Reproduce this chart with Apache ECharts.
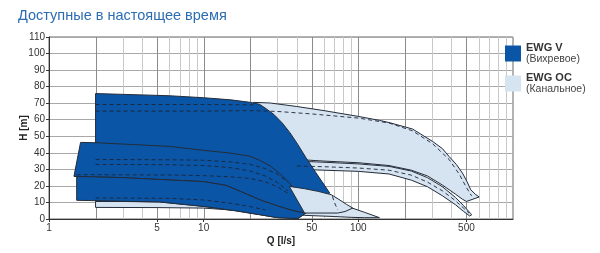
<!DOCTYPE html>
<html>
<head>
<meta charset="utf-8">
<script src="https://cdn.jsdelivr.net/npm/echarts@6/dist/echarts.min.js"></script>
<style>
html,body{margin:0;padding:0;background:#fff;}
#c{width:600px;height:253px;}
</style>
</head>
<body>
<div id="c"></div>
<script>
// ---- data ----
const xTickValues = [1, 5, 10, 50, 100, 500];
const gridMajor = [2, 5, 10, 20, 50, 100, 200, 500];
const gridMinor = [3, 4, 6, 7, 8, 9, 30, 40, 60, 70, 80, 90, 300, 400, 600, 700, 800, 900];

// EWG OC (Канальное) envelopes [Q, H]
const ocMain = [[21,70.5],[27,70.1],[40,68],[60,65.5],[100,62],[137,59.6],[158,58.3],[224,54.4],[302,46.9],[350,42.5],[386,37.8],[430,33],[471,27.8],[505,22.5],[533,17.7],[570,15],[604,13.3],
  [500,10.6],[470,12],[425,15],[350,20.5],[280,26],[220,29.5],[158,32.3],[100,34],[60,35],[40,36],[30,37],[21,40]];
const ocBand = [[30,35.5],[40,35],[60,34.3],[100,33.3],[158,31.8],[220,29],[280,25],[350,19.5],[425,13],[480,8],[530,3.5],[540,2.5],
  [525,1.8],[480,4.5],[425,8.6],[350,14],[280,19.5],[220,23.5],[158,27.2],[100,28.8],[60,29.5],[40,30],[30,30.2]];
const ocLow = [[2,10.6],[10,10.5],[20,10.5],[45,9.7],[60,9.5],[75,8.8],[90,6.8],[110,4],[137,0.8],
  [110,0.8],[90,1],[70,1.5],[45,2.2],[30,3.2],[20,4.6],[10,6.6],[5,6.9],[2,7]];
const ocSmall = [[35.8,19.7],[45,18.3],[55,16.7],[66.8,14.7],[75,11.8],[84,8.8],[92,6.6],[82,4.5],[73.5,3.6],[60,3.6],[44.9,3.6]];

// EWG V (Вихревое) envelopes [Q, H]
const vHigh = [[2,75.8],[4,75],[6,74.5],[10,73.3],[15,72],[20,70.5],[23,69.3],
  [25.3,66.7],[28.5,63.1],[32.1,58.2],[36.1,52.2],[40.7,44.9],[45.8,37.1],[51.6,29.8],[58.2,22.6],[65.3,15.7],
  [56,10],[45.7,3.6],[40.7,0.3],[30,0.8],[23,2.6],[16,5],[10,7.6],[5.2,10.3],[2,10.8]];
const vMid = [[1.6,46.3],[2,46.1],[3,45.3],[6,43.9],[10,41.5],[15,39.8],[19.8,38],[23,35.5],[27,32],[31,27.5],[35.8,21.8],[40,16],[44,10],[48.3,4.6],
  [45.7,3.6],[38,5],[30.8,7.6],[24,11],[19,15],[14,20.3],[10,22.6],[7,23.3],[3,25],[1.45,25.8]];
const vLow = [[1.45,25.8],[3,25],[7,23.3],[10,22.6],[14,20.3],[19,15],[24,11],[30.8,7.6],[38,5],[45.7,3.6],
  [40.7,0.3],[30,0.8],[23,2.6],[16,5],[10,7.6],[5.2,10.3],[1.51,11.3],[1.51,25.6]];

// dashed curves [Q, H]
const dashTopA = [[2,69.2],[10,69.2],[20,69],[22,68.9]];
const dashTopB = [[2,65.2],[10,65.2],[20,65.5],[30,65],[50,63.5],[100,61],[158,58],[224,53.3],[302,45.5],[386,36],[450,27],[500,19],[540,14]];
const dashMidA = [[2,36],[6,35.8],[10,35.5],[15,34.5],[20,33],[25,30.5],[30,27],[35,22.5]];
const dashMidB = [[2,33],[6,32.8],[10,32.3],[15,31],[20,29],[25,26],[30,22],[35,17]];
const dashLowA = [[1.51,26.8],[6,26.6],[10,26.2],[15,25.5],[20,24.5],[25,22.5],[30,19.5],[35,15.5]];
const dashLowB = [[2,12.7],[6,12.5],[10,11.5],[15,9.5],[20,7.5],[25,5.5]];
const dashBand = [[40,32],[60,31.6],[100,30.8],[158,29.5],[220,26.5],[280,22.3],[350,17],[425,11],[480,6.5],[520,3.5]];
const dashSmall = [[68,13.7],[70,10],[73.5,5.6]];

// ---- styles ----
const DARK = '#0b55a6';
const LIGHT = '#d6e3f0';
const OUTLINE = '#232c3a';
const FONT = 'Liberation Sans, Arial, sans-serif';

function polySeries(name, pts, fill) {
  return {
    type: 'custom', name: name, coordinateSystem: 'cartesian2d',
    data: pts, encode: {x: 0, y: 1}, clip: true, silent: true, z: 3,
    itemStyle: {color: fill},
    renderItem: function (params, api) {
      if (params.dataIndex !== 0) return null;
      return {
        type: 'polygon',
        shape: {points: pts.map(function (p) { return api.coord(p); })},
        style: {fill: fill, stroke: OUTLINE, lineWidth: 1}
      };
    }
  };
}
function dashSeries(pts) {
  return {
    type: 'line', data: pts, symbol: 'none', silent: true, z: 4,
    lineStyle: {color: '#1b2538', width: 0.9, type: [4, 3]}
  };
}

const gridLines = gridMajor.map(v => [v, 1]).concat(gridMinor.map(v => [v, 0]));

const chart = echarts.init(document.getElementById('c'), null, {renderer: 'canvas'});
chart.setOption({
  animation: false,
  backgroundColor: '#fff',
  title: {
    text: 'Доступные в настоящее время', left: 13, top: 3,
    textStyle: {color: '#2b6cb3', fontSize: 14.5, fontWeight: 'normal', fontFamily: FONT}
  },
  legend: {
    orient: 'vertical', left: 505, top: 42, itemGap: 7, padding: 0,
    itemWidth: 16, itemHeight: 16, icon: 'rect', selectedMode: false,
    data: [
      {name: 'EWG V', itemStyle: {color: DARK, borderWidth: 0}},
      {name: 'EWG OC', itemStyle: {color: LIGHT, borderWidth: 0}}
    ],
    formatter: function (n) {
      return n === 'EWG V' ? '{b|EWG V}\n{s|(Вихревое)}' : '{b|EWG OC}\n{s|(Канальное)}';
    },
    textStyle: {
      fontFamily: FONT,
      rich: {
        b: {fontWeight: 'bold', fontSize: 11, lineHeight: 12, color: '#333', fontFamily: FONT},
        s: {fontSize: 10.5, lineHeight: 12, color: '#444', fontFamily: FONT}
      }
    }
  },
  grid: {left: 49, right: 87, top: 37, bottom: 34, show: true, borderColor: '#666', borderWidth: 1, backgroundColor: 'transparent'},
  xAxis: {
    type: 'log', logBase: 10, min: 1, max: 1000,
    name: 'Q [l/s]', nameLocation: 'middle', nameGap: 17, nameMoveOverlap: false,
    nameTextStyle: {fontWeight: 'bold', fontSize: 10, color: '#222', fontFamily: FONT},
    axisLine: {lineStyle: {color: '#333'}},
    axisTick: {customValues: xTickValues, length: 3, lineStyle: {color: '#333'}},
    axisLabel: {customValues: xTickValues, fontSize: 10, color: '#333', margin: 4, fontFamily: FONT},
    splitLine: {show: false}, minorTick: {show: false}
  },
  yAxis: {
    type: 'value', min: 0, max: 110, interval: 10,
    name: 'H [m]', nameLocation: 'middle', nameGap: 20, nameMoveOverlap: false,
    nameTextStyle: {fontWeight: 'bold', fontSize: 10, color: '#222', fontFamily: FONT},
    axisLine: {show: true, lineStyle: {color: '#333'}},
    axisTick: {show: true, length: 3, lineStyle: {color: '#333'}},
    axisLabel: {fontSize: 10, color: '#333', margin: 4, fontFamily: FONT},
    splitLine: {show: true, lineStyle: {color: '#a8a8a8', width: 1}}
  },
  series: [
    {
      type: 'custom', coordinateSystem: 'cartesian2d', data: gridLines, encode: {x: 0},
      silent: true, z: 1, clip: true,
      renderItem: function (params, api) {
        const v = api.value(0), major = api.value(1) === 1;
        const a = api.coord([v, 0]), b = api.coord([v, 110]);
        const x = Math.round(a[0]) + 0.5;
        return {type: 'line', shape: {x1: x, y1: a[1], x2: x, y2: b[1]},
          style: {stroke: major ? '#8c8c8c' : '#c8c8c8', lineWidth: 1}};
      }
    },
    polySeries('EWG OC', ocMain, LIGHT),
    polySeries('EWG OC', ocBand, LIGHT),
    polySeries('EWG OC', ocLow, LIGHT),
    polySeries('EWG V', vHigh, DARK),
    polySeries('EWG V', vMid, DARK),
    polySeries('EWG V', vLow, DARK),
    polySeries('EWG OC', ocSmall, LIGHT),
    dashSeries(dashTopA), dashSeries(dashTopB), dashSeries(dashMidA), dashSeries(dashMidB),
    dashSeries(dashLowA), dashSeries(dashLowB), dashSeries(dashBand), dashSeries(dashSmall)
  ]
});
</script>
</body>
</html>
